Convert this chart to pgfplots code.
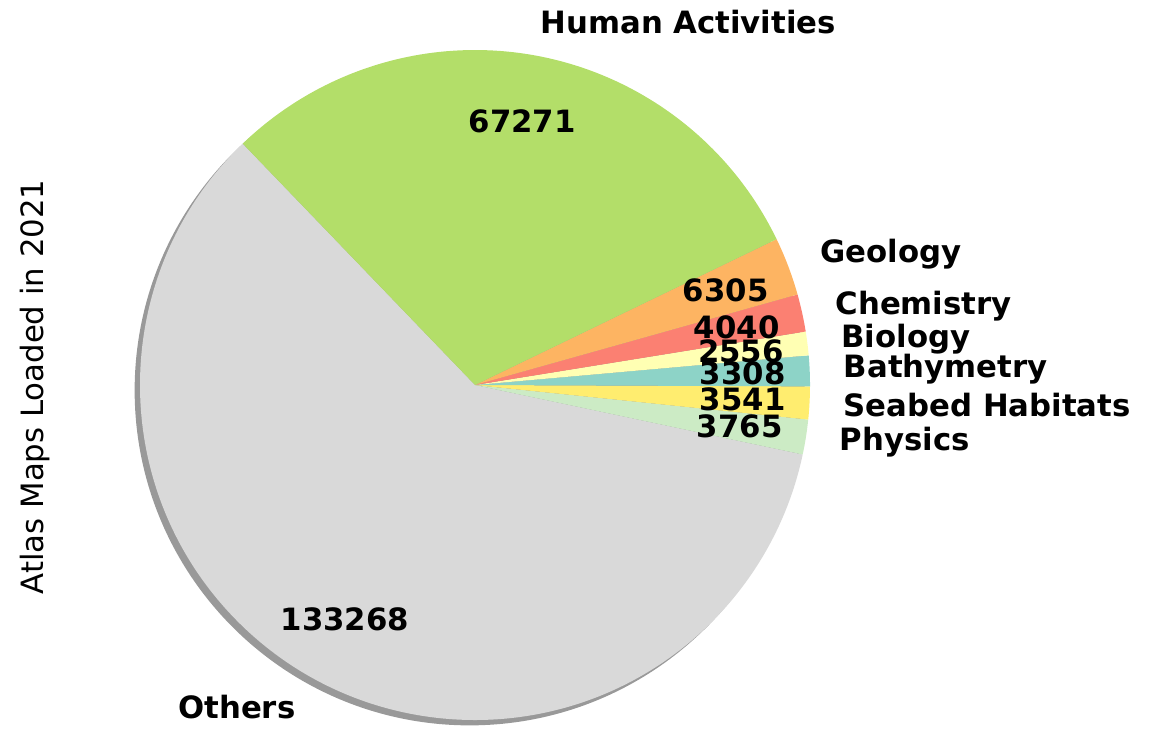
\documentclass[border=0pt]{standalone}
\usepackage{pgfplots}
\pgfplotsset{compat=1.18}
\usepackage{pgfplotstable}
\usepackage{fontspec}
\setmainfont{DejaVu Sans}

% matplotlib Set3 colours
\definecolor{sGray}{HTML}{D9D9D9}
\definecolor{sLgreen}{HTML}{CCEBC5}
\definecolor{sYellow}{HTML}{FFED6F}
\definecolor{sTeal}{HTML}{8DD3C7}
\definecolor{sLyellow}{HTML}{FFFFB3}
\definecolor{sSalmon}{HTML}{FB8072}
\definecolor{sOrange}{HTML}{FDB462}
\definecolor{sGreen}{HTML}{B3DE69}

% slices in counter-clockwise order, starting at the Others/Human edge
\pgfplotstableread[col sep=comma]{
label,value,color
Others,133268,sGray
Physics,3765,sLgreen
Seabed Habitats,3541,sYellow
Bathymetry,3308,sTeal
Biology,2556,sLyellow
Chemistry,4040,sSalmon
Geology,6305,sOrange
Human Activities,67271,sGreen
}\piedata

\def\startangle{133.9}
\def\rad{3.35cm}

% total (l3fp, values are too large for pgfmath)
\def\total{0}
\pgfplotsforeachungrouped \i in {0,...,7}{
  \pgfplotstablegetelem{\i}{value}\of\piedata
  \xdef\total{\fpeval{\total+\pgfplotsretval}}
}

\begin{document}
\begin{tikzpicture}
\useasboundingbox (0,0) rectangle (11.62cm,7.29cm);
\fontsize{8.75}{10.5}\selectfont
\begin{axis}[
  at={(0,0)}, anchor=south west,
  scale only axis, width=11.62cm, height=7.29cm,
  xmin=-1.4179, xmax=2.0507, ymin=-1.0269, ymax=1.1493,
  hide axis, clip=false,
]
% shadow
\fill[black!40] (axis cs:-0.016,-0.016) circle[radius=\rad];
\def\cum{0}
\pgfplotsforeachungrouped \i in {0,...,7}{
  \pgfplotstablegetelem{\i}{value}\of\piedata \let\val\pgfplotsretval
  \pgfplotstablegetelem{\i}{color}\of\piedata \let\col\pgfplotsretval
  \edef\a{\fpeval{round(\startangle+360*\cum/\total,4)}}
  \xdef\cum{\fpeval{\cum+\val}}
  \edef\b{\fpeval{round(\startangle+360*\cum/\total,4)}}
  \edef\ca{\fpeval{round(cosd(\a),5)}}
  \edef\sa{\fpeval{round(sind(\a),5)}}
  \edef\temp{\noexpand\fill[\col] (axis cs:0,0) -- (axis cs:\ca,\sa)
    arc[start angle=\a, end angle=\b, radius=\rad] -- cycle;}
  \temp
}
\xdef\cum{0}
\pgfplotsforeachungrouped \i in {0,...,7}{
  \pgfplotstablegetelem{\i}{value}\of\piedata \let\val\pgfplotsretval
  \pgfplotstablegetelem{\i}{label}\of\piedata \let\lab\pgfplotsretval
  \edef\m{\fpeval{\startangle+360*(\cum+\val/2)/\total}}
  \xdef\cum{\fpeval{\cum+\val}}
  \edef\px{\fpeval{round(0.8*cosd(\m),5)}}
  \edef\py{\fpeval{round(0.8*sind(\m),5)}}
  \edef\lx{\fpeval{round(1.1*cosd(\m),5)}}
  \edef\ly{\fpeval{round(1.1*sind(\m),5)}}
  \if1\fpeval{cosd(\m)>0}\def\anc{west}\else\def\anc{east}\fi
  \edef\temp{\noexpand\node[font=\noexpand\bfseries] at (axis cs:\px,\py) {\val};
    \noexpand\node[font=\noexpand\bfseries, anchor=\anc, inner sep=0pt] at (axis cs:\lx,\ly) {\lab};}
  \temp
}
\end{axis}
\node[rotate=90] at (0.35cm,3.42cm) {Atlas Maps Loaded in 2021};
\end{tikzpicture}
\end{document}
